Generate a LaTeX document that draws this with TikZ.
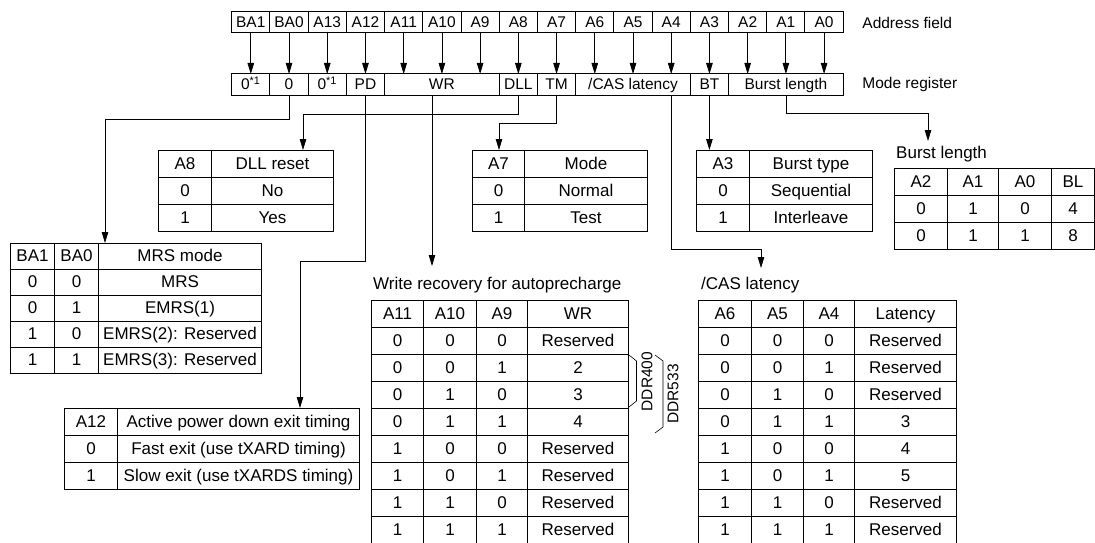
\documentclass[tikz,border=0pt]{standalone}
\usepackage{fontspec}
\setmainfont{Liberation Sans}
\usetikzlibrary{matrix,positioning,arrows.meta}

\newcommand\regfont{\fontsize{15.5}{17}\selectfont}
\newcommand\tabfont{\fontsize{17}{19}\selectfont}

\tikzset{
  arr/.style={line width=0.8pt, -{Triangle[length=11pt,width=6.5pt]}},
  regcell/.style={draw, line width=1pt, inner sep=0pt, outer sep=0pt,
    minimum width=38.22pt, minimum height=21pt,
    text height=11.5pt, text depth=1.5pt, font=\regfont},
  lbl/.style={inner sep=0pt, font=\regfont},
  title/.style={inner sep=0pt, anchor=base west, font=\tabfont},
  tab/.style={matrix of nodes, inner sep=0pt, outer sep=0pt, anchor=north west,
    row sep=-1pt, column sep=-1pt,
    nodes={draw, line width=1pt, inner sep=0pt, outer sep=0pt,
      minimum height=27pt, text height=12.5pt, text depth=2.5pt, font=\tabfont}},
}

\begin{document}
\begin{tikzpicture}[x=1pt,y=-1pt]
\useasboundingbox (0,0) rectangle (1095,543);

% address field
\foreach \name [count=\i from 0] in {BA1,BA0,A13,A12,A11,A10,A9,A8,A7,A6,A5,A4,A3,A2,A1,A0}
  \node[regcell] (a\i) at ({250.8+38.22*\i},22.5) {\name};
\node[lbl, right=19pt of a15] (addrlbl) {Address field};

% mode register
\node[regcell] (r0) at (250.8,84.5) {0\textsuperscript{*1}};
\node[regcell] (r1) at (289.0,84.5) {0};
\node[regcell] (r2) at (327.2,84.5) {0\textsuperscript{*1}};
\node[regcell] (pd) at (365.5,84.5) {PD};
\node[regcell, minimum width=114.66pt] (wr) at (441.9,84.5) {WR};
\node[regcell] (dll) at (518.3,84.5) {DLL};
\node[regcell] (tm) at (556.6,84.5) {TM};
\node[regcell, minimum width=114.66pt] (cas) at (633.0,84.5) {/CAS latency};
\node[regcell] (bt) at (709.4,84.5) {BT};
\node[regcell, minimum width=114.66pt] (bl) at (785.9,84.5) {Burst length};
\node[lbl, right=19pt of bl] (modelbl) {Mode register};

% address bits into register
\foreach \i in {0,...,15}
  \draw[arr] (a\i.south) -- (a\i.south |- r0.north);

% DLL reset
\matrix (dlltab) [tab, column 1/.style={nodes={minimum width=53pt}},
  column 2/.style={nodes={minimum width=122pt}}] at (158,150) {
  A8 & DLL reset \\
  0 & No \\
  1 & Yes \\
};

% test mode
\matrix (tmtab) [tab, column 1/.style={nodes={minimum width=52pt}},
  column 2/.style={nodes={minimum width=123pt}}] at (472,150) {
  A7 & Mode \\
  0 & Normal \\
  1 & Test \\
};

% burst type
\matrix (bttab) [tab, column 1/.style={nodes={minimum width=53pt}},
  column 2/.style={nodes={minimum width=123pt}}] at (696,150) {
  A3 & Burst type \\
  0 & Sequential \\
  1 & Interleave \\
};

% burst length
\node[title] (bltitle) at (896,158) {Burst length};
\matrix (bltab) [tab, column 1/.style={nodes={minimum width=53pt}},
  column 2/.style={nodes={minimum width=51pt}},
  column 3/.style={nodes={minimum width=53pt}},
  column 4/.style={nodes={minimum width=43pt}}] at (894,168) {
  A2 & A1 & A0 & BL \\
  0 & 1 & 0 & 4 \\
  0 & 1 & 1 & 8 \\
};

% MRS mode
\matrix (mrstab) [tab, nodes={minimum height=26pt},
  column 1/.style={nodes={minimum width=44pt}},
  column 2/.style={nodes={minimum width=44pt}},
  column 3/.style={nodes={minimum width=163pt}}] at (10,243) {
  BA1 & BA0 & MRS mode \\
  0 & 0 & MRS \\
  0 & 1 & EMRS(1) \\
  1 & 0 & EMRS(2): Reserved \\
  1 & 1 & EMRS(3): Reserved \\
};

% power down exit
\matrix (pdtab) [tab, column 1/.style={nodes={minimum width=53pt}},
  column 2/.style={nodes={minimum width=242pt}}] at (64,408) {
  A12 & Active power down exit timing \\
  0 & Fast exit (use tXARD timing) \\
  1 & Slow exit (use tXARDS timing) \\
};

% write recovery
\node[title] (wrtitle) at (373,289) {Write recovery for autoprecharge};
\matrix (wrtab) [tab, column 1/.style={nodes={minimum width=52pt}},
  column 2/.style={nodes={minimum width=53pt}},
  column 3/.style={nodes={minimum width=51pt}},
  column 4/.style={nodes={minimum width=101pt}}] at (371,300) {
  A11 & A10 & A9 & WR \\
  0 & 0 & 0 & Reserved \\
  0 & 0 & 1 & 2 \\
  0 & 1 & 0 & 3 \\
  0 & 1 & 1 & 4 \\
  1 & 0 & 0 & Reserved \\
  1 & 0 & 1 & Reserved \\
  1 & 1 & 0 & Reserved \\
  1 & 1 & 1 & Reserved \\
};
\draw[line width=0.6pt] (629,355) -- (636.5,361) -- (636.5,401) -- (629,407); %DDR400
\node[lbl, rotate=90] (ddr400) at (647,381.5) {DDR400};
\draw[line width=0.6pt] (655,355) -- (663,361) -- (663,427) -- (655,433); %DDR533
\node[lbl, rotate=90] (ddr533) at (673,394) {DDR533};

% CAS latency
\node[title] (castitle) at (701,289) {/CAS latency};
\matrix (castab) [tab, column 1/.style={nodes={minimum width=53pt}},
  column 2/.style={nodes={minimum width=52pt}},
  column 3/.style={nodes={minimum width=51pt}},
  column 4/.style={nodes={minimum width=102pt}}] at (698,300) {
  A6 & A5 & A4 & Latency \\
  0 & 0 & 0 & Reserved \\
  0 & 0 & 1 & Reserved \\
  0 & 1 & 0 & Reserved \\
  0 & 1 & 1 & 3 \\
  1 & 0 & 0 & 4 \\
  1 & 0 & 1 & 5 \\
  1 & 1 & 0 & Reserved \\
  1 & 1 & 1 & Reserved \\
};

% register fields to tables
\coordinate (mrsbend) at (105,119);
\draw[arr] (r1.south) |- (mrsbend) -- (mrsbend |- mrstab.north);
\coordinate (pdbend) at (300,261);
\draw[arr] (pd.south) |- (pdbend) -- (pdbend |- pdtab.north);
\coordinate (wrdrop) at (432,266);
\draw[arr] (wrdrop |- wr.south) -- (wrdrop);
\coordinate (dllbend) at (303,114);
\draw[arr] (dll.south) |- (dllbend) -- (dllbend |- dlltab.north);
\coordinate (tmbend) at (499,123);
\draw[arr] (tm.south) |- (tmbend) -- (tmbend |- tmtab.north);
\coordinate (casbend) at (761,249);
\coordinate (casdrop) at (761,268);
\draw[arr] (a11.south |- cas.south) |- (casbend) -- (casdrop);
\draw[arr] (bt.south) -- (bt.south |- bttab.north);
\coordinate (blbend) at (928,113);
\coordinate (bldrop) at (928,141);
\draw[arr] (bl.south) |- (blbend) -- (bldrop);

\end{tikzpicture}
\end{document}
